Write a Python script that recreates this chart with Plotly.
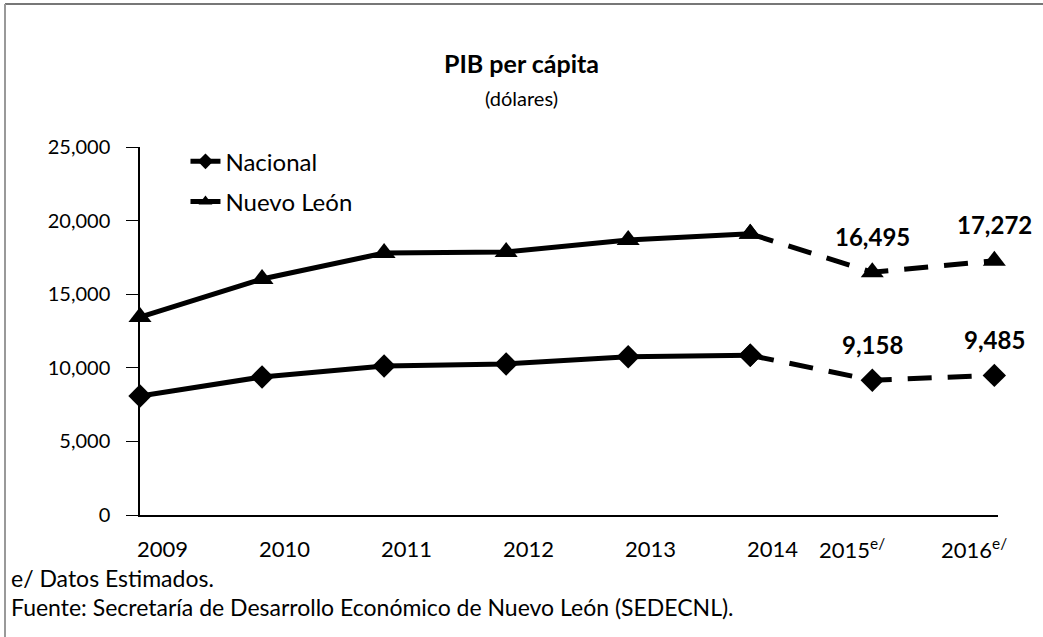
import plotly.graph_objects as go

years = [2009, 2010, 2011, 2012, 2013, 2014, 2015, 2016]
tick_labels = ["2009", "2010", "2011", "2012", "2013", "2014",
               "2015<sup>e/</sup>", "2016<sup>e/</sup>"]
nacional = [8080, 9380, 10120, 10260, 10750, 10850, 9158, 9485]
nuevo_leon = [13450, 16030, 17800, 17870, 18680, 19100, 16495, 17272]
n_hist = 6  # 2009-2014 observed, 2015-2016 estimated

FONT = "Lato"
fig = go.Figure()

def add_series(name, vals, symbol, size):
    fig.add_trace(go.Scatter(
        x=years[:n_hist], y=vals[:n_hist], name=name, mode="lines+markers",
        legendgroup=name,
        line=dict(color="black", width=5),
        marker=dict(symbol=symbol, size=size, color="black"),
        cliponaxis=False))
    fig.add_trace(go.Scatter(
        x=years[n_hist - 1:], y=vals[n_hist - 1:], name=name, mode="lines+markers",
        legendgroup=name,
        line=dict(color="black", width=5, dash="24px,16px"),
        marker=dict(symbol=symbol, size=size, color="black"),
        showlegend=False, cliponaxis=False))
    for x, v in zip(years[n_hist:], vals[n_hist:]):
        fig.add_annotation(x=x, y=v, text=f"<b>{v:,}</b>", showarrow=False,
                           yshift=36, font=dict(family=FONT, size=24, color="black"))

add_series("Nacional", nacional, "diamond", 18)
add_series("Nuevo León", nuevo_leon, "triangle-up", 20)

# category labels under the x axis (estimated years sit further left, as in the source)
for i, (x, lab) in enumerate(zip(years, tick_labels)):
    fig.add_annotation(x=x, y=0, xref="x", yref="paper", text=lab,
                       showarrow=False, xanchor="center", yanchor="middle",
                       yshift=-33, xshift=(22 if i < n_hist else -20),
                       font=dict(family=FONT, size=22, color="black"))

fig.update_layout(
    width=1043, height=637,
    margin=dict(l=140, r=45, t=147, b=122, autoexpand=False),
    paper_bgcolor="white", plot_bgcolor="white",
    font=dict(family=FONT, size=22, color="black"),
    title=dict(text="<b>PIB per cápita</b><br><span style='font-size:20px'>(dólares)</span>",
               x=0.5, xref="container", xanchor="center", y=0.885, yref="container",
               yanchor="middle",
               font=dict(family=FONT, size=25, color="black")),
    showlegend=True,
    legend=dict(x=0.053, y=1.021, xanchor="left", yanchor="top",
                bgcolor="rgba(0,0,0,0)", font=dict(family=FONT, size=24),
                tracegroupgap=6, itemsizing="constant"),
    xaxis=dict(range=[2009, 2016.03], tickvals=years,
               showline=True, linecolor="black", linewidth=1.5,
               showgrid=False, zeroline=False, ticks="", showticklabels=False,
               automargin=False),
    yaxis=dict(range=[0, 25000], tickvals=[0, 5000, 10000, 15000, 20000, 25000],
               tickformat=",", showline=True, linecolor="black", linewidth=1.5,
               showgrid=False, zeroline=False, ticks="outside", ticklen=12,
               tickcolor="black", ticklabelstandoff=12, automargin=False,
               tickfont=dict(family=FONT, size=20)),
)

fig.add_annotation(text="e/ Datos Estimados.", xref="paper", yref="paper",
                   x=-131/858, y=-63/368, xanchor="left", yanchor="middle",
                   showarrow=False, font=dict(family=FONT, size=23))
fig.add_annotation(text="Fuente: Secretaría de Desarrollo Económico de Nuevo León (SEDECNL).",
                   xref="paper", yref="paper",
                   x=-131/858, y=-92/368, xanchor="left", yanchor="middle",
                   showarrow=False, font=dict(family=FONT, size=23))

# scanned frame border (top and left edges)
fig.add_shape(type="line", xref="paper", yref="paper",
              x0=-135/858, x1=903/858, y0=(515 - 4) / 368, y1=(515 - 4) / 368,
              line=dict(color="#777777", width=2))
fig.add_shape(type="line", xref="paper", yref="paper",
              x0=-135/858, x1=-135/858, y0=(515 - 4) / 368, y1=-122/368,
              line=dict(color="#999999", width=2))

fig.write_html("out.html", config={"displayModeBar": False},
               post_script="document.body.style.margin='0';document.body.style.overflow='hidden';")
